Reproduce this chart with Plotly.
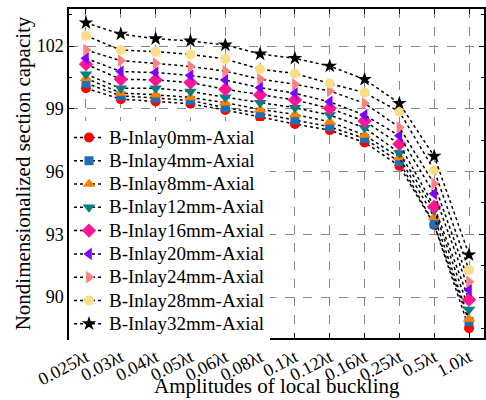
import plotly.graph_objects as go

categories = ["0.025λt", "0.03λt", "0.04λt", "0.05λt", "0.06λt", "0.08λt",
              "0.1λt", "0.12λt", "0.16λt", "0.25λt", "0.5λt", "1.0λt"]

inlay0 = [99.98, 99.46, 99.35, 99.24, 98.94, 98.59, 98.27, 97.98, 97.39, 96.27, 93.45, 88.51]
inlay4 = [100.22, 99.62, 99.51, 99.40, 99.05, 98.78, 98.46, 98.14, 97.58, 96.46, 93.48, 88.83]
inlay8 = [100.46, 99.75, 99.67, 99.54, 99.29, 98.97, 98.73, 98.38, 97.74, 96.67, 93.83, 88.95]
inlay12 = [100.65, 99.98, 99.98, 99.83, 99.55, 99.29, 99.05, 98.70, 98.09, 96.89, 94.16, 89.40]
inlay16 = [101.13, 100.41, 100.38, 100.25, 99.93, 99.66, 99.42, 99.02, 98.41, 97.31, 94.32, 89.87]
inlay20 = [101.41, 100.78, 100.73, 100.59, 100.37, 100.01, 99.74, 99.33, 98.70, 97.71, 94.94, 90.33]
inlay24 = [101.81, 101.30, 101.17, 101.02, 100.80, 100.42, 100.17, 99.85, 99.26, 98.11, 95.41, 90.73]
inlay28 = [102.49, 101.81, 101.73, 101.60, 101.38, 100.89, 100.69, 100.21, 99.77, 98.86, 96.06, 91.29]
inlay32 = [103.11, 102.57, 102.35, 102.24, 102.05, 101.62, 101.41, 101.04, 100.41, 99.26, 96.73, 92.02]

names = ["B-Inlay0mm-Axial", "B-Inlay4mm-Axial", "B-Inlay8mm-Axial", "B-Inlay12mm-Axial",
         "B-Inlay16mm-Axial", "B-Inlay20mm-Axial", "B-Inlay24mm-Axial", "B-Inlay28mm-Axial",
         "B-Inlay32mm-Axial"]
series = [inlay0, inlay4, inlay8, inlay12, inlay16, inlay20, inlay24, inlay28, inlay32]
colors = ["#FF0000", "#1F6FB4", "#FF8000", "#008080", "#FF1493", "#8000FF", "#FF8080", "#FFDD88", "#000000"]
symbols = ["circle", "square", "triangle-up", "triangle-down", "diamond", "triangle-left",
           "triangle-right", "circle", "star"]
sizes = [10, 9, 11, 11, 11, 11, 11, 10, 11]

font_family = "Liberation Serif, Times New Roman, serif"

fig = go.Figure()
for nm, ys, c, s, sz in zip(names, series, colors, symbols, sizes):
    fig.add_trace(go.Scatter(
        x=categories, y=ys,
        name='<span style="font-size:19px">' + nm + '</span>',
        mode="lines+markers",
        line=dict(color="black", width=1.5, dash="dot"),
        marker=dict(symbol=s, color=c, size=sz, line=dict(width=0)),
    ))

fig.update_layout(
    width=486, height=400,
    margin=dict(l=69, r=2, t=9, b=62, autoexpand=False),
    paper_bgcolor="white", plot_bgcolor="white",
    font=dict(family=font_family, size=18, color="black"),
    showlegend=True,
    legend=dict(x=0.0, y=0.66, xanchor="left", yanchor="top",
                bgcolor="white", borderwidth=0,
                font=dict(family=font_family, size=15.6, color="black"),
                tracegroupgap=0, itemwidth=30),
    annotations=[dict(text="Amplitudes of local buckling", xref="paper", yref="paper",
                      x=0.5, y=-0.145, xanchor="center", yanchor="middle", showarrow=False,
                      font=dict(family=font_family, size=21, color="black"))],
)

fig.update_xaxes(
    type="category", range=[-0.488, 11.43], automargin=False,
    showline=True, linecolor="black", linewidth=1.5, mirror="ticks",
    ticks="inside", ticklen=5, tickwidth=1, tickcolor="black",
    showgrid=True, gridcolor="#888888", gridwidth=1, griddash="dash",
    tickangle=-28, tickfont=dict(family=font_family, size=18),
    zeroline=False,
)
fig.update_yaxes(
    range=[88.04, 103.77], tick0=90, dtick=3, automargin=False,
    showline=True, linecolor="black", linewidth=1.5, mirror="ticks",
    ticks="inside", ticklen=5, tickwidth=1, tickcolor="black",
    minor=dict(dtick=1.5, ticks="inside", ticklen=3, tickcolor="black", showgrid=False),
    showgrid=True, gridcolor="#888888", gridwidth=1, griddash="dash",
    tickfont=dict(family=font_family, size=18),
    title=dict(text="Nondimensionalized section capacity", font=dict(family=font_family, size=21), standoff=0),
    zeroline=False,
)

fig.write_html("out.html")
